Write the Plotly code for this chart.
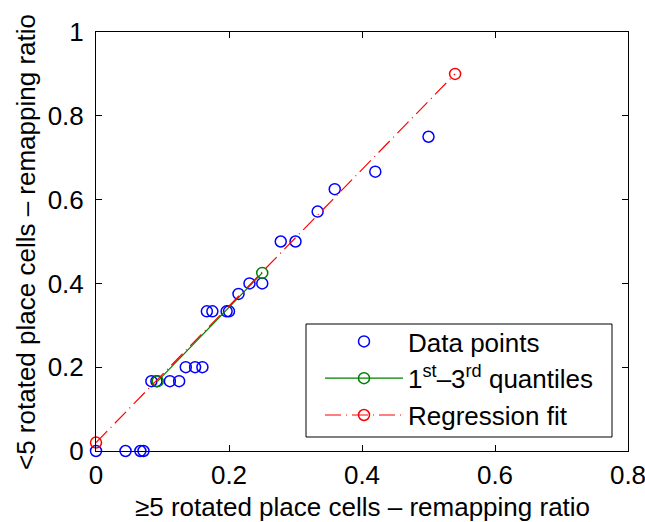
import plotly.graph_objects as go

# Remapping ratios: >=5 rotated cells (x) vs <5 rotated cells (y)
ratio_many = [0, 0.0444, 0.0667, 0.0714,
              0.0833, 0.0909, 0.1111, 0.125,
              0.135, 0.149, 0.16,
              0.1667, 0.175, 0.1964, 0.2,
              0.2143,
              0.2308, 0.25,
              0.2778, 0.3,
              0.3333,
              0.359,
              0.42,
              0.5]
ratio_few = [0, 0, 0, 0,
             0.1667, 0.1667, 0.1667, 0.1667,
             0.2, 0.2, 0.2,
             0.3333, 0.3333, 0.3333, 0.3333,
             0.375,
             0.4, 0.4,
             0.5, 0.5,
             0.5714,
             0.625,
             0.6667,
             0.75]

# First and third quantile points
quant_x = [0.0928, 0.25]
quant_y = [0.1667, 0.425]

# Linear regression end points
fit_x = [0, 0.54]
fit_y = [0.02, 0.9]

x_ticks = [0, 0.2, 0.4, 0.6, 0.8]
y_ticks = [0, 0.2, 0.4, 0.6, 0.8, 1]

x_title = "\u22655 rotated place cells \u2013 remapping ratio"
y_title = "<5 rotated place cells \u2013 remapping ratio"

FONT = "Liberation Sans, Arial, Helvetica, sans-serif"

# plot area in pixels
L, R, T, B = 96, 628, 32, 451
PW, PH = R - L, B - T


def px_x(p):
    return (p - L) / PW


def px_y(p):
    return (B - p) / PH


fig = go.Figure()
fig.add_trace(go.Scatter(
    x=ratio_many, y=ratio_few, mode="markers", name="Data points",
    marker=dict(symbol="circle-open", size=11, color="#0000ff",
                line=dict(width=1.5, color="#0000ff")),
    cliponaxis=False,
))
fig.add_trace(go.Scatter(
    x=quant_x, y=quant_y, mode="lines+markers",
    name="1<sup>st</sup>\u20133<sup>rd</sup> quantiles",
    line=dict(color="#008000", width=1.2),
    marker=dict(symbol="circle-open", size=11, color="#008000",
                line=dict(width=1.5, color="#008000")),
    cliponaxis=False,
))
fig.add_trace(go.Scatter(
    x=fit_x, y=fit_y, mode="lines+markers", name="Regression fit",
    line=dict(color="#ff0000", width=1.2, dash="16px,5px,1px,5px"),
    marker=dict(symbol="circle-open", size=11, color="#ff0000",
                line=dict(width=1.5, color="#ff0000")),
    cliponaxis=False,
))

axis_common = dict(
    showgrid=False, zeroline=False, showline=True, linecolor="black",
    linewidth=1, mirror="ticks", ticks="inside", ticklen=6,
    tickcolor="black", tickwidth=1, automargin=False,
    ticklabeloverflow="allow",
    tickfont=dict(family=FONT, size=26, color="black"),
)

fig.update_xaxes(range=[0, 0.8], tickvals=x_ticks, ticklabelstandoff=1,
                 ticktext=[f"{v:g}" for v in x_ticks], **axis_common)
fig.update_yaxes(range=[0, 1], tickvals=y_ticks, ticklabelstandoff=6,
                 ticktext=[f"{v:g}" for v in y_ticks], **axis_common)

# Axis titles
title_font = dict(family=FONT, size=26, color="black")
fig.add_annotation(text=x_title, xref="paper", yref="paper",
                   x=0.5, y=px_y(490), xanchor="center", yanchor="top",
                   showarrow=False, font=title_font)
fig.add_annotation(text=y_title, xref="paper", yref="paper",
                   x=px_x(26), y=px_y(242), xanchor="center", yanchor="middle",
                   textangle=-90, showarrow=False, font=title_font)

# Legend frame drawn as a shape so its extent can be set directly
fig.add_shape(
    type="rect", xref="paper", yref="paper",
    x0=px_x(306), x1=px_x(612), y0=px_y(437), y1=px_y(324),
    line=dict(color="black", width=1), fillcolor="white", layer="below",
)

fig.update_layout(
    width=645, height=522,
    margin=dict(l=L, r=645 - R, t=T, b=522 - B),
    paper_bgcolor="white", plot_bgcolor="white",
    showlegend=True,
    legend=dict(
        x=px_x(320), y=px_y(318),
        xanchor="left", yanchor="top",
        bgcolor="rgba(0,0,0,0)", borderwidth=0,
        font=dict(family=FONT, size=26, color="black"),
        itemwidth=78,
    ),
)

fig.write_html("out.html")
